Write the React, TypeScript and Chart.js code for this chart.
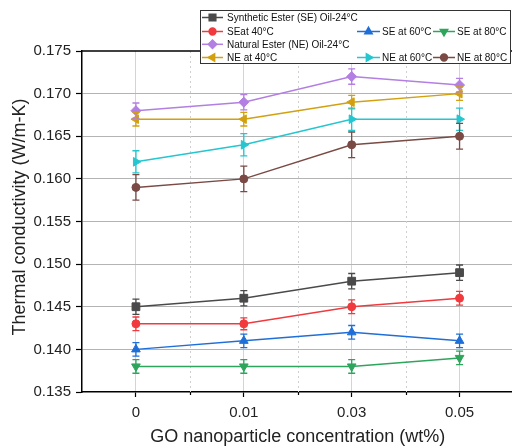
import React, { useEffect, useRef } from "react";
import { Chart, registerables } from "chart.js";
import { drawPoint } from "chart.js/helpers";

Chart.register(...registerables);

const categories = ["0", "0.01", "0.03", "0.05"];

const seRoom = [0.145, 0.146, 0.148, 0.149];
const se40 = [0.143, 0.143, 0.145, 0.146];
const se60 = [0.14, 0.141, 0.142, 0.141];
const se80 = [0.138, 0.138, 0.138, 0.139];
const neRoom = [0.168, 0.169, 0.172, 0.171];
const ne40 = [0.167, 0.167, 0.169, 0.17];
const ne60 = [0.162, 0.164, 0.167, 0.167];
const ne80 = [0.159, 0.16, 0.164, 0.165];

const seRoomErr = [0.0009, 0.0009, 0.0009, 0.0009];
const se40Err = [0.0008, 0.0007, 0.0008, 0.0008];
const se60Err = [0.0008, 0.0008, 0.0008, 0.0008];
const se80Err = [0.0008, 0.0008, 0.0008, 0.0008];
const neRoomErr = [0.0009, 0.0009, 0.0009, 0.0008];
const ne40Err = [0.0008, 0.0008, 0.0008, 0.0008];
const ne60Err = [0.0013, 0.0013, 0.0013, 0.0013];
const ne80Err = [0.0015, 0.0015, 0.0015, 0.0015];

const seriesLabels = [
  "Synthetic Ester (SE) Oil-24°C",
  "SEat 40°C",
  "SE at 60°C",
  "SE at 80°C",
  "Natural Ester (NE) Oil-24°C",
  "NE at 40°C",
  "NE at 60°C",
  "NE at 80°C",
];

const yTicks = [0.135, 0.14, 0.145, 0.15, 0.155, 0.16, 0.165, 0.17, 0.175];

const xTitle = "GO nanoparticle concentration (wt%)";
const yTitle = "Thermal conductivity (W/m-K)";

const FONT = "'Liberation Sans', Arial, sans-serif";

const seriesStyle = [
  { color: "#4a4a4a", pointStyle: "rect", rotation: 0, radius: 5.5 },
  { color: "#f03a3e", pointStyle: "circle", rotation: 0, radius: 4 },
  { color: "#1f6fd8", pointStyle: "triangle", rotation: 0, radius: 5 },
  { color: "#2ea55c", pointStyle: "triangle", rotation: 180, radius: 5 },
  { color: "#b37fe2", pointStyle: "rectRot", rotation: 0, radius: 5 },
  { color: "#d2a010", pointStyle: "triangle", rotation: 270, radius: 5 },
  { color: "#25c6d0", pointStyle: "triangle", rotation: 90, radius: 5 },
  { color: "#7a4a45", pointStyle: "circle", rotation: 0, radius: 4 },
];

const seriesData = [seRoom, se40, se60, se80, neRoom, ne40, ne60, ne80];
const seriesErr = [seRoomErr, se40Err, se60Err, se80Err, neRoomErr, ne40Err, ne60Err, ne80Err];

// legend grid: [seriesIndex, row, col]
const legendLayout = [
  [0, 0, 0],
  [1, 1, 0],
  [2, 1, 1],
  [3, 1, 2],
  [4, 2, 0],
  [5, 3, 0],
  [6, 3, 1],
  [7, 3, 2],
];

const extrasPlugin = {
  id: "extras",
  beforeDatasetsDraw(chart: any) {
    const { ctx, chartArea } = chart;
    const x = chart.scales.x;
    ctx.save();
    for (let i = 0; i < categories.length - 1; i++) {
      const xm = Math.round((x.getPixelForValue(i) + x.getPixelForValue(i + 1)) / 2) + 0.5;
      ctx.setLineDash([2, 3]);
      ctx.strokeStyle = "#cfcfcf";
      ctx.lineWidth = 1;
      ctx.beginPath();
      ctx.moveTo(xm, chartArea.top);
      ctx.lineTo(xm, chartArea.bottom);
      ctx.stroke();
      ctx.setLineDash([]);
      ctx.strokeStyle = "#000";
      ctx.lineWidth = 1.2;
      ctx.beginPath();
      ctx.moveTo(xm, chartArea.bottom);
      ctx.lineTo(xm, chartArea.bottom + 3);
      ctx.stroke();
    }
    ctx.strokeStyle = "#000";
    ctx.lineWidth = 1.5;
    ctx.beginPath();
    ctx.moveTo(chartArea.left, chartArea.top);
    ctx.lineTo(chartArea.right, chartArea.top);
    ctx.stroke();
    ctx.restore();
  },
  afterDatasetsDraw(chart: any) {
    const { ctx } = chart;
    const xs = chart.scales.x;
    const ys = chart.scales.y;
    ctx.save();
    seriesData.forEach((arr, si) => {
      const err = seriesErr[si];
      ctx.strokeStyle = seriesStyle[si].color;
      ctx.lineWidth = 1.3;
      arr.forEach((v, i) => {
        const px = xs.getPixelForValue(i);
        const y1 = ys.getPixelForValue(v + err[i]);
        const y2 = ys.getPixelForValue(v - err[i]);
        ctx.beginPath();
        ctx.moveTo(px, y1);
        ctx.lineTo(px, y2);
        ctx.moveTo(px - 3.5, y1);
        ctx.lineTo(px + 3.5, y1);
        ctx.moveTo(px - 3.5, y2);
        ctx.lineTo(px + 3.5, y2);
        ctx.stroke();
      });
    });
    ctx.restore();
  },
  afterDraw(chart: any) {
    const { ctx } = chart;
    ctx.save();
    // y-axis title
    ctx.save();
    ctx.translate(20, 217);
    ctx.rotate(-Math.PI / 2);
    ctx.font = `18px ${FONT}`;
    ctx.fillStyle = "#222";
    ctx.textAlign = "center";
    ctx.textBaseline = "middle";
    ctx.fillText(yTitle, 0, 0);
    ctx.restore();
    // legend
    const box = { x: 200.5, y: 10.5, w: 310, h: 53 };
    ctx.fillStyle = "#fff";
    ctx.fillRect(box.x, box.y, box.w, box.h);
    ctx.strokeStyle = "#333";
    ctx.lineWidth = 1;
    ctx.strokeRect(box.x, box.y, box.w, box.h);
    const rows = [17.5, 31.5, 44.3, 57.5];
    const cols = [
      { l1: 202, l2: 223, t: 227 },
      { l1: 357, l2: 380, t: 382 },
      { l1: 433, l2: 455, t: 457 },
    ];
    ctx.font = `10px ${FONT}`;
    ctx.textBaseline = "middle";
    legendLayout.forEach(([si, r, c]) => {
      const st = seriesStyle[si];
      const y = rows[r];
      const col = cols[c];
      ctx.strokeStyle = st.color;
      ctx.fillStyle = st.color;
      ctx.lineWidth = 1.5;
      ctx.beginPath();
      ctx.moveTo(col.l1, y);
      ctx.lineTo(col.l2, y);
      ctx.stroke();
      drawPoint(ctx, { pointStyle: st.pointStyle, rotation: st.rotation, radius: st.radius * 0.85, borderWidth: 1 } as any, (col.l1 + col.l2) / 2, y);
      ctx.fillStyle = "#111";
      ctx.fillText(seriesLabels[si], col.t, y + 0.5);
    });
    ctx.restore();
  },
};

export default function App() {
  const ref = useRef<HTMLCanvasElement>(null);
  useEffect(() => {
    const canvas = ref.current;
    if (!canvas) return;
    const chart = new Chart(canvas, {
      type: "line",
      data: {
        labels: categories,
        datasets: seriesData.map((d, i) => ({
          label: seriesLabels[i],
          data: d,
          borderColor: seriesStyle[i].color,
          backgroundColor: seriesStyle[i].color,
          pointBackgroundColor: seriesStyle[i].color,
          pointBorderColor: seriesStyle[i].color,
          pointStyle: seriesStyle[i].pointStyle as any,
          pointRotation: seriesStyle[i].rotation,
          pointRadius: seriesStyle[i].radius,
          pointBorderWidth: 1,
          borderWidth: 1.5,
          tension: 0,
        })),
      },
      options: {
        responsive: false,
        animation: false,
        devicePixelRatio: 1,
        layout: { padding: { top: 51, right: 0, left: 0, bottom: 0 } },
        plugins: { legend: { display: false }, tooltip: { enabled: false } },
        scales: {
          x: {
            type: "category",
            offset: true,
            grid: {
              offset: false,
              color: "#d4d4d4",
              lineWidth: 1,
              tickColor: "#000",
              tickLength: 5,
              tickWidth: 1.2,
            },
            border: { color: "#000", width: 1.5 },
            ticks: { font: { size: 15, family: FONT }, color: "#222", padding: 7 },
            title: {
              display: true,
              text: xTitle,
              font: { size: 18, family: FONT },
              color: "#222",
              padding: { top: 0, bottom: 0 },
            },
            afterFit: (s: any) => {
              s.height = 56;
            },
          },
          y: {
            min: yTicks[0],
            max: yTicks[yTicks.length - 1],
            afterBuildTicks: (s: any) => {
              s.ticks = yTicks.map((v) => ({ value: v }));
            },
            grid: {
              color: (c: any) =>
                c.tick && (Math.abs(c.tick.value - yTicks[0]) < 1e-9 || Math.abs(c.tick.value - yTicks[yTicks.length - 1]) < 1e-9)
                  ? "rgba(0,0,0,0)"
                  : "#b4b4b4",
              tickColor: "#000",
              tickLength: 6,
              tickWidth: 1.2,
            },
            border: { color: "#000", width: 1.5 },
            ticks: {
              font: { size: 15, family: FONT },
              color: "#222",
              padding: 5,
              callback: (v: any) => Number(v).toFixed(3),
            },
            title: { display: false },
            afterFit: (s: any) => {
              s.width = 82;
            },
          },
        },
      },
      plugins: [extrasPlugin],
    });
    return () => chart.destroy();
  }, []);
  return (
    <div style={{ position: "fixed", left: 0, top: 0, width: 512, height: 448, overflow: "hidden", background: "#fff" }}>
      <canvas ref={ref} width={520} height={448} style={{ display: "block", width: 520, height: 448 }} />
    </div>
  );
}
